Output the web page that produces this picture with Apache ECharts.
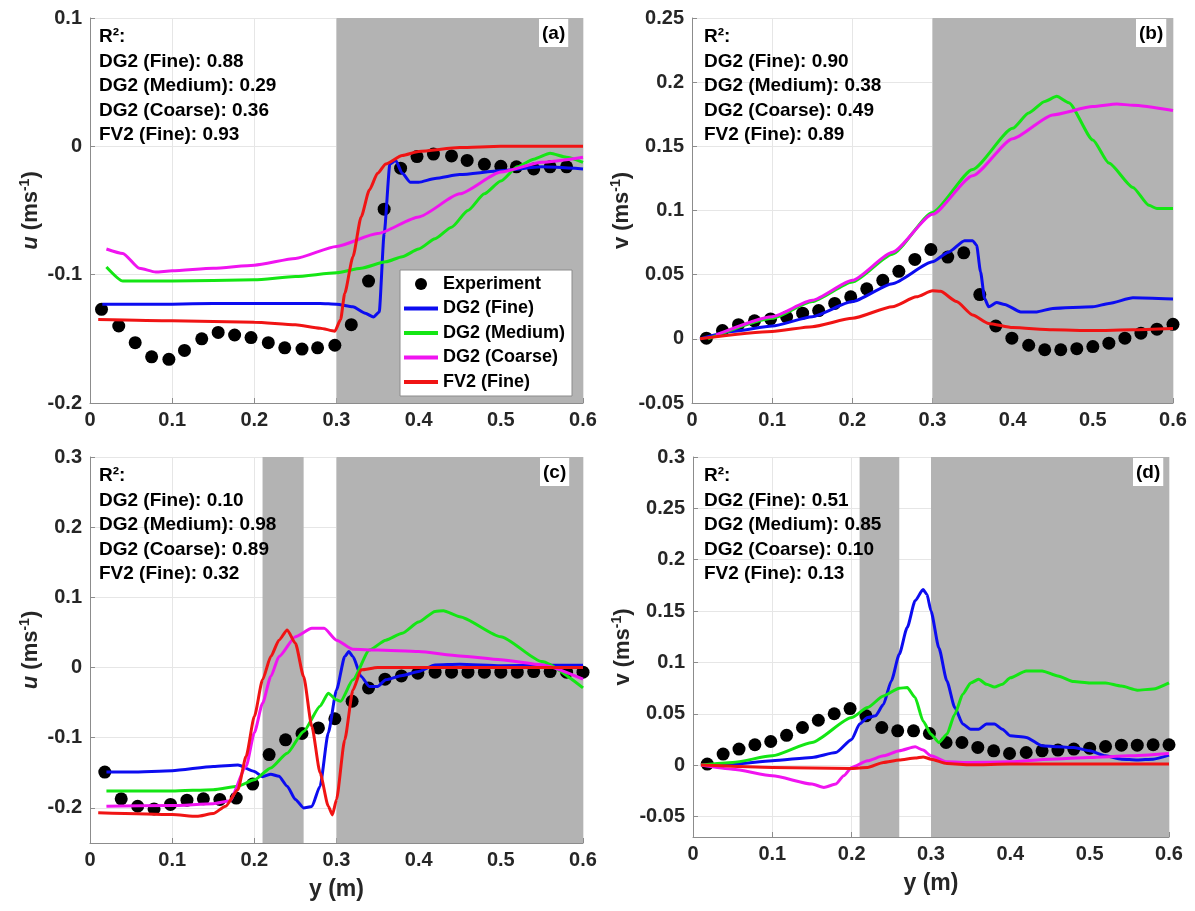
<!DOCTYPE html>
<html>
<head>
<meta charset="utf-8">
<script src="https://cdn.jsdelivr.net/npm/echarts@6/dist/echarts.min.js"></script>
<style>
  html, body { margin: 0; background: #fff; }
  #chart { width: 1195px; height: 911px; }
</style>
</head>
<body>
<div id="chart"></div>
<script>
// series names / legend
const names = ["Experiment", "DG2 (Fine)", "DG2 (Medium)", "DG2 (Coarse)", "FV2 (Fine)"];
const xTicks = [0, 0.1, 0.2, 0.3, 0.4, 0.5, 0.6];

// ---- panel (a): u, case 1 ----
const yTicksA = [-0.2, -0.1, 0, 0.1];
const bandsA = [[0.3, 0.6]];
const r2A = ["0.88", "0.29", "0.36", "0.93"];
const expXa = [0.014, 0.035, 0.055, 0.075, 0.096, 0.115, 0.136, 0.156, 0.176, 0.196, 0.217, 0.237, 0.258, 0.277, 0.298,
  0.318, 0.339, 0.358, 0.378, 0.398, 0.418, 0.44, 0.459, 0.48, 0.5, 0.519, 0.54, 0.56, 0.58];
const expYa = [-0.127, -0.140, -0.153, -0.164, -0.166, -0.159, -0.150, -0.145, -0.147, -0.149, -0.153, -0.157, -0.158, -0.157, -0.155,
  -0.139, -0.105, -0.049, -0.017, -0.008, -0.006, -0.0075, -0.011, -0.014, -0.0155, -0.016, -0.0176, -0.016, -0.016];
const aFine = [[0.015,-0.123],[0.1,-0.123],[0.15,-0.1225],[0.2,-0.1225],[0.28,-0.1225],[0.3,-0.123],[0.32,-0.125],[0.335,-0.130],
  [0.345,-0.133],[0.352,-0.129],[0.358,-0.068],[0.365,-0.0137],[0.372,-0.011],[0.38,-0.021],[0.39,-0.028],[0.4,-0.028],
  [0.42,-0.025],[0.45,-0.022],[0.5,-0.019],[0.55,-0.016],[0.6,-0.0176]];
const aMedium = [[0.02,-0.094],[0.04,-0.105],[0.1,-0.105],[0.2,-0.104],[0.25,-0.1015],[0.3,-0.0985],[0.33,-0.095],[0.36,-0.090],
  [0.38,-0.086],[0.4,-0.080],[0.42,-0.072],[0.44,-0.063],[0.46,-0.050],[0.48,-0.037],[0.5,-0.027],[0.52,-0.016],[0.54,-0.010],
  [0.56,-0.0054],[0.58,-0.0085],[0.6,-0.0125]];
const aCoarse = [[0.02,-0.080],[0.04,-0.0835],[0.06,-0.095],[0.08,-0.098],[0.1,-0.097],[0.15,-0.095],[0.2,-0.0926],[0.25,-0.0874],
  [0.3,-0.078],[0.35,-0.068],[0.4,-0.055],[0.45,-0.037],[0.5,-0.020],[0.55,-0.0124],[0.6,-0.0085]];
const aFV = [[0.01,-0.135],[0.1,-0.136],[0.2,-0.137],[0.25,-0.139],[0.28,-0.1417],[0.298,-0.144],[0.305,-0.135],[0.31,-0.1146],
  [0.32,-0.086],[0.33,-0.055],[0.34,-0.034],[0.35,-0.021],[0.36,-0.0137],[0.38,-0.0072],[0.4,-0.004],[0.45,-0.001],[0.5,0],[0.6,0]];

// ---- panel (b): v, case 1 ----
const yTicksB = [-0.05, 0, 0.05, 0.1, 0.15, 0.2, 0.25];
const bandsB = [[0.3, 0.6]];
const r2B = ["0.90", "0.38", "0.49", "0.89"];
const expX = [0.018, 0.038, 0.058, 0.078, 0.098, 0.118, 0.138, 0.158, 0.178, 0.198, 0.218, 0.238, 0.258, 0.278, 0.298,
  0.319, 0.339, 0.359, 0.379, 0.399, 0.42, 0.44, 0.46, 0.48, 0.5, 0.52, 0.54, 0.56, 0.58, 0.6];
const expYb = [0.0005, 0.0064, 0.011, 0.014, 0.0155, 0.017, 0.020, 0.022, 0.0276, 0.0327, 0.039, 0.0456, 0.0526, 0.0619, 0.0696,
  0.0637, 0.067, 0.0345, 0.010, 0.0005, -0.005, -0.0085, -0.0085, -0.0077, -0.006, -0.0034, 0.0005, 0.0044, 0.0075, 0.0113];
const bFine = [[0.01,0],[0.05,0.0057],[0.1,0.010],[0.15,0.0173],[0.2,0.029],[0.25,0.043],[0.3,0.060],[0.32,0.0675],[0.34,0.0765],
  [0.35,0.0765],[0.355,0.073],[0.36,0.052],[0.365,0.0314],[0.37,0.025],[0.38,0.0283],[0.39,0.0268],[0.41,0.021],[0.43,0.021],
  [0.45,0.0237],[0.5,0.025],[0.52,0.0276],[0.55,0.032],[0.6,0.031]];
const bMedium = [[0.02,0],[0.1,0.016],[0.15,0.029],[0.2,0.0443],[0.25,0.066],[0.3,0.0985],[0.35,0.132],[0.4,0.164],[0.42,0.176],
  [0.44,0.185],[0.455,0.189],[0.47,0.184],[0.5,0.155],[0.52,0.137],[0.55,0.118],[0.57,0.104],[0.58,0.1015],[0.6,0.1015]];
const bCoarse = [[0.03,0.003],[0.1,0.0173],[0.15,0.030],[0.2,0.0456],[0.25,0.0675],[0.3,0.097],[0.35,0.127],[0.4,0.156],
  [0.45,0.1745],[0.5,0.181],[0.53,0.183],[0.55,0.182],[0.6,0.178]];
const bFV = [[0.01,0],[0.1,0.0057],[0.15,0.0095],[0.2,0.016],[0.25,0.025],[0.28,0.0327],[0.3,0.0374],[0.31,0.037],[0.33,0.029],
  [0.35,0.0186],[0.37,0.012],[0.4,0.0088],[0.45,0.007],[0.5,0.0064],[0.55,0.007],[0.6,0.008]];

// ---- panel (c): u, case 2 ----
const yTicksC = [-0.2, -0.1, 0, 0.1, 0.2, 0.3];
const bandsC = [[0.21, 0.26], [0.3, 0.6]];
const r2C = ["0.10", "0.98", "0.89", "0.32"];
const expYc = [-0.149, -0.187, -0.1976, -0.2014, -0.195, -0.189, -0.187, -0.188, -0.186, -0.166, -0.124, -0.103, -0.094, -0.086, -0.073,
  -0.048, -0.029, -0.0166, -0.012, -0.008, -0.0066, -0.0066, -0.0066, -0.0066, -0.0066, -0.0066, -0.0057, -0.0057, -0.0066, -0.0066];
const cFine = [[0.02,-0.149],[0.05,-0.149],[0.1,-0.147],[0.15,-0.141],[0.18,-0.139],[0.2,-0.148],[0.21,-0.1555],[0.22,-0.152],
  [0.23,-0.155],[0.24,-0.169],[0.25,-0.188],[0.26,-0.2],[0.27,-0.198],[0.28,-0.169],[0.29,-0.093],[0.3,-0.032],[0.31,0.0156],
  [0.315,0.0227],[0.32,0.0156],[0.33,-0.0128],[0.34,-0.027],[0.35,-0.027],[0.36,-0.0175],[0.38,-0.0114],[0.4,-0.0057],
  [0.42,0.0038],[0.45,0.0047],[0.5,0.0024],[0.55,0.0033],[0.6,0.0033]];
const cMedium = [[0.02,-0.176],[0.1,-0.176],[0.15,-0.174],[0.18,-0.169],[0.2,-0.16],[0.22,-0.143],[0.24,-0.122],[0.26,-0.091],
  [0.28,-0.055],[0.29,-0.0365],[0.3,-0.046],[0.305,-0.048],[0.32,-0.0175],[0.34,0.025],[0.36,0.039],[0.38,0.049],[0.4,0.065],
  [0.42,0.08],[0.43,0.081],[0.45,0.0725],[0.5,0.044],[0.55,0.0085],[0.6,-0.029]];
const cCoarse = [[0.02,-0.1976],[0.1,-0.1967],[0.15,-0.194],[0.17,-0.19],[0.19,-0.141],[0.2,-0.093],[0.21,-0.051],[0.22,-0.0128],
  [0.23,0.0156],[0.25,0.044],[0.27,0.056],[0.285,0.056],[0.3,0.039],[0.32,0.026],[0.35,0.025],[0.4,0.0227],[0.45,0.0166],
  [0.5,0.011],[0.55,0.0038],[0.6,-0.0166]];
const cFV = [[0.01,-0.207],[0.1,-0.2095],[0.13,-0.212],[0.15,-0.208],[0.165,-0.1976],[0.18,-0.174],[0.19,-0.1265],[0.2,-0.0697],
  [0.21,-0.0175],[0.22,0.0156],[0.23,0.039],[0.24,0.0536],[0.25,0.0346],[0.26,-0.0128],[0.27,-0.084],[0.28,-0.150],[0.29,-0.1976],
  [0.295,-0.21],[0.3,-0.188],[0.31,-0.103],[0.32,-0.032],[0.33,-0.0033],[0.35,0],[0.6,0]];

// ---- panel (d): v, case 2 ----
const yTicksD = [-0.05, 0, 0.05, 0.1, 0.15, 0.2, 0.25, 0.3];
const bandsD = [[0.21, 0.26], [0.3, 0.6]];
const r2D = ["0.51", "0.85", "0.10", "0.13"];
const expYd = [0.001, 0.0107, 0.0156, 0.0198, 0.023, 0.029, 0.0366, 0.0437, 0.050, 0.055, 0.048, 0.0366, 0.0334, 0.0334, 0.0308,
  0.022, 0.022, 0.0172, 0.0139, 0.0113, 0.0123, 0.0139, 0.0146, 0.0156, 0.0165, 0.0181, 0.0194, 0.0194, 0.0198, 0.0198];
const dFine = [[0.01,0],[0.05,0.001],[0.1,0.0042],[0.15,0.0075],[0.18,0.0123],[0.2,0.025],[0.21,0.040],[0.22,0.0463],[0.23,0.048],
  [0.24,0.059],[0.25,0.082],[0.26,0.108],[0.27,0.134],[0.28,0.160],[0.29,0.171],[0.295,0.166],[0.3,0.150],[0.31,0.114],[0.32,0.082],
  [0.33,0.056],[0.34,0.040],[0.35,0.035],[0.36,0.035],[0.37,0.040],[0.38,0.040],[0.39,0.035],[0.4,0.0285],[0.42,0.027],
  [0.44,0.0188],[0.46,0.0178],[0.48,0.0172],[0.5,0.014],[0.52,0.009],[0.54,0.0058],[0.56,0.0049],[0.58,0.0058],[0.6,0.0097]];
const dMedium = [[0.01,0],[0.05,0.0026],[0.1,0.009],[0.15,0.022],[0.2,0.0463],[0.22,0.056],[0.24,0.0674],[0.26,0.0749],
  [0.27,0.0755],[0.28,0.0658],[0.29,0.043],[0.3,0.030],[0.31,0.022],[0.32,0.030],[0.33,0.0496],[0.34,0.069],[0.35,0.080],
  [0.36,0.0836],[0.37,0.0787],[0.38,0.076],[0.39,0.0787],[0.4,0.085],[0.42,0.0917],[0.44,0.0917],[0.46,0.0868],[0.48,0.0813],
  [0.5,0.080],[0.52,0.080],[0.54,0.077],[0.56,0.073],[0.58,0.074],[0.6,0.080]];
const dCoarse = [[0.01,0],[0.05,-0.004],[0.1,-0.0104],[0.15,-0.0185],[0.165,-0.0217],[0.18,-0.0185],[0.19,-0.0104],[0.2,-0.0023],
  [0.22,0.0042],[0.24,0.009],[0.26,0.014],[0.28,0.0178],[0.29,0.0146],[0.3,0.009],[0.32,0.0032],[0.35,0.0026],[0.4,0.0032],
  [0.45,0.0058],[0.5,0.0075],[0.55,0.009],[0.6,0.0113]];
const dFV = [[0.01,0],[0.1,-0.0023],[0.2,-0.0032],[0.22,-0.0023],[0.24,0.0026],[0.26,0.0049],[0.28,0.0068],[0.29,0.008],
  [0.3,0.0058],[0.32,0.0016],[0.35,0.0003],[0.4,0.001],[0.5,0.001],[0.6,0.001]];

const FONT = "'Liberation Sans', Arial, sans-serif";
const colors = ["#000000", "#0c0cf0", "#14e614", "#f014f0", "#f01414"];
const axisGray = "#8c8c8c";

const panels = [
  { grid: { left: 90, top: 18, width: 493, height: 385 }, yMin: -0.2, yMax: 0.1, yTicks: yTicksA,
    yName: "{i|u} (ms{sup|-1})", yGap: 46, xName: "", bands: bandsA, expX: expXa, expY: expYa,
    lines: [aFine, aMedium, aCoarse, aFV], r2: r2A, tag: "(a)", txt: [99, 25], tagPos: [539, 19] },
  { grid: { left: 692, top: 18, width: 481, height: 385 }, yMin: -0.05, yMax: 0.25, yTicks: yTicksB,
    yName: "v (ms{sup|-1})", yGap: 51, xName: "", bands: bandsB, expX: expX, expY: expYb,
    lines: [bFine, bMedium, bCoarse, bFV], r2: r2B, tag: "(b)", txt: [704, 25], tagPos: [1136, 19] },
  { grid: { left: 90, top: 457, width: 493, height: 386 }, yMin: -0.25, yMax: 0.3, yTicks: yTicksC,
    yName: "{i|u} (ms{sup|-1})", yGap: 46, xName: "y (m)", bands: bandsC, expX: expX, expY: expYc,
    lines: [cFine, cMedium, cCoarse, cFV], r2: r2C, tag: "(c)", txt: [99, 464], tagPos: [540, 458] },
  { grid: { left: 693, top: 457, width: 476, height: 380 }, yMin: -0.07, yMax: 0.3, yTicks: yTicksD,
    yName: "v (ms{sup|-1})", yGap: 56, xName: "y (m)", bands: bandsD, expX: expX, expY: expYd,
    lines: [dFine, dMedium, dCoarse, dFV], r2: r2D, tag: "(d)", txt: [704, 464], tagPos: [1133, 458] }
];

const fmt = v => String(+(+v).toFixed(2));
const labelStyle = { fontFamily: FONT, fontWeight: "bold", fontSize: 20, color: "#262626" };
const nameStyle = {
  fontFamily: FONT, fontWeight: "bold", fontSize: 22, color: "#262626", lineHeight: 25,
  rich: {
    i: { fontFamily: FONT, fontWeight: "bold", fontStyle: "italic", fontSize: 22, color: "#262626", lineHeight: 25 },
    sup: { fontFamily: FONT, fontWeight: "bold", fontSize: 14, color: "#262626", lineHeight: 14, verticalAlign: "top" }
  }
};

const grids = [], xAxes = [], yAxes = [], series = [], graphics = [];

panels.forEach((p, i) => {
  grids.push(p.grid);
  xAxes.push({
    type: "value", gridIndex: i, min: 0, max: 0.6, interval: 0.1,
    name: p.xName, nameLocation: "middle", nameGap: 35,
    nameTextStyle: { fontFamily: FONT, fontWeight: "bold", fontSize: 23, color: "#262626" },
    axisLine: { show: true, onZero: false, lineStyle: { color: axisGray, width: 1 } },
    axisTick: { show: true, inside: true, length: 5, lineStyle: { color: axisGray } },
    axisLabel: Object.assign({ margin: 7, formatter: fmt }, labelStyle),
    splitLine: { show: true, lineStyle: { color: "#e6e6e6", width: 1 } }
  });
  yAxes.push({
    type: "value", gridIndex: i, min: p.yMin, max: p.yMax,
    name: p.yName, nameLocation: "middle", nameGap: p.yGap, nameTextStyle: nameStyle,
    axisLine: { show: true, onZero: false, lineStyle: { color: axisGray, width: 1 } },
    axisTick: { show: true, inside: true, length: 5, lineStyle: { color: axisGray }, customValues: p.yTicks },
    axisLabel: Object.assign({ margin: 8, formatter: fmt, customValues: p.yTicks }, labelStyle),
    splitLine: { show: true, lineStyle: { color: "#e6e6e6", width: 1 } }
  });

  series.push({
    name: names[0], type: "scatter", xAxisIndex: i, yAxisIndex: i,
    data: p.expX.map((x, k) => [x, p.expY[k]]),
    symbol: "circle", symbolSize: 13, itemStyle: { color: colors[0], opacity: 1 }, z: 2,
    markArea: {
      silent: true, z: 1,
      itemStyle: { color: "#b3b3b3" },
      data: p.bands.map(b => [{ xAxis: b[0] }, { xAxis: b[1] }])
    }
  });
  p.lines.forEach((d, k) => {
    series.push({
      name: names[k + 1], type: "line", xAxisIndex: i, yAxisIndex: i, data: d,
      showSymbol: false, symbol: "none", smooth: 0.2, smoothMonotone: "x",
      lineStyle: { width: 3, color: colors[k + 1] }, itemStyle: { color: colors[k + 1] }, z: 3
    });
  });

  const lines = ["R²:"].concat(names.slice(1).map((n, k) => n + ": " + p.r2[k]));
  graphics.push({
    type: "text", left: p.txt[0], top: p.txt[1], z: 100,
    style: { text: lines.join("\n"), fontFamily: FONT, fontWeight: "bold", fontSize: 19, lineHeight: 24.5, fill: "#000" }
  });
  graphics.push({
    type: "text", left: p.tagPos[0], top: p.tagPos[1], z: 100,
    style: { text: p.tag, fontFamily: FONT, fontWeight: "bold", fontSize: 19, fill: "#000",
      backgroundColor: "#fff", padding: [5, 3, 4, 3] }
  });
});

// legend: dot for the experiment, plain line swatch for the models
const legendData = names.map((n, k) => k === 0
  ? { name: n, itemStyle: { opacity: 1 } }
  : { name: n, itemStyle: { opacity: 0 }, lineStyle: { width: 4, color: colors[k] } });

const chart = echarts.init(document.getElementById("chart"));
chart.setOption({
  backgroundColor: "#fff",
  animation: false,
  grid: grids,
  xAxis: xAxes,
  yAxis: yAxes,
  legend: {
    data: legendData, orient: "vertical", left: 400, top: 270,
    backgroundColor: "#fff", borderColor: axisGray, borderWidth: 1,
    padding: [4, 7, 4, 2], itemWidth: 34, itemHeight: 12, itemGap: 4.5,
    textStyle: { fontFamily: FONT, fontWeight: "bold", fontSize: 18, color: "#000", lineHeight: 20 }
  },
  graphic: graphics,
  series: series
});
window.addEventListener("resize", () => chart.resize());
</script>
</body>
</html>
